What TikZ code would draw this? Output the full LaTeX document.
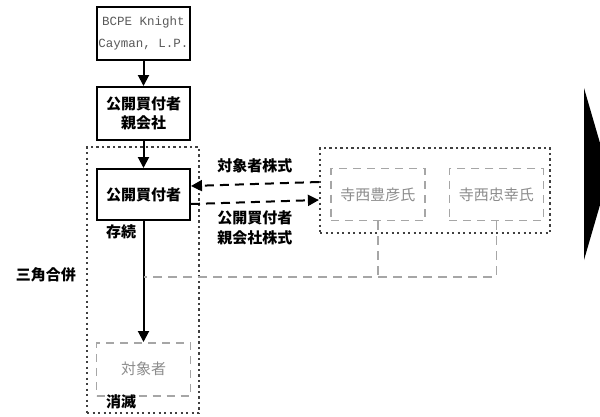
\documentclass[tikz,border=0pt]{standalone}
\usepackage{fontspec}
\newfontfamily\jp{Noto Sans CJK JP}
\setmonofont{Liberation Mono}
\usepackage{xcolor}
\usepackage{tikz}
\usetikzlibrary{positioning,arrows.meta}

\tikzset{
	firm/.style={draw,line width=2pt,minimum width=93pt,minimum height=53pt,inner sep=0pt,align=center,font=\jp\bfseries\fontsize{15}{19}\selectfont},
	gone/.style={draw=black!35,line width=1.5pt,dash pattern=on 8pt off 6pt,minimum width=94pt,minimum height=52pt,inner sep=0pt,text=black!45,font=\jp\fontsize{15}{19}\selectfont},
	grp/.style={draw=black!75,line width=2.2pt,dash pattern=on 2.2pt off 3.3pt,inner sep=0pt},
	lbl/.style={inner sep=0pt,font=\jp\bfseries\fontsize{15}{20}\selectfont},
	dasharr/.style={line width=2pt,dash pattern=on 9pt off 6pt},
	shareline/.style={-,draw=black!35,line width=1.5pt,dash pattern=on 9pt off 6pt}
}

\begin{document}
\begin{tikzpicture}[->,>={Triangle[length=11pt,width=11pt]},line width=2pt,x=1pt,y=-1pt,node distance=25pt]
		\useasboundingbox (0,0) rectangle (600,416);
		% groups
		\node[grp,minimum width=112pt,minimum height=266pt] (merge) at (143,280) {};
		\node[grp,minimum width=230pt,minimum height=85pt] (holders) at (435,190.5) {};

		\node[firm,font=\ttfamily\fontsize{12.5}{22}\selectfont,text=black!65] (bcpe) at (143.5,33.5) {BCPE Knight\\Cayman, L.P.};
		\node[firm] (parent) [below=of bcpe] {公開買付者\\親会社};
		\node[firm,minimum height=51pt] (buyer) [below=27pt of parent] {公開買付者};
		\node[gone,minimum height=53pt] (target) [below=121pt of buyer] {対象者};
		\node[gone] (pers1) [right=139pt of buyer] {寺西豊彦氏};
		\node[gone] (pers2) [right=23pt of pers1] {寺西忠幸氏};

		\node[lbl] (survive) at (121,232) {存続};
		\node[lbl] (vanish) at (121,402) {消滅};
		\node[lbl] (tri) at (46,275) {三角合併};

		\draw (bcpe) -- (parent);
		\draw (parent) -- (buyer);
		\draw (buyer) -- (target);
		\draw[dasharr] ([yshift=8.5pt]holders.west) -- node[lbl,above=10pt]{対象者株式} ([yshift=8.5pt]buyer.east);
		\draw[dasharr] ([yshift=-9.5pt]buyer.east) -- node[lbl,below=8pt,align=left]{公開買付者\\親会社株式} ([yshift=-9.5pt]holders.west);

		\coordinate (join) at (143.5,277);
		\draw[shareline] (pers1.south) -- (pers1.south |- join);
		\draw[shareline] (pers2.south) |- (join);

		\fill[-] (584,88) -- (609,174) -- (584,260) -- cycle;
	\end{tikzpicture}
\end{document}
